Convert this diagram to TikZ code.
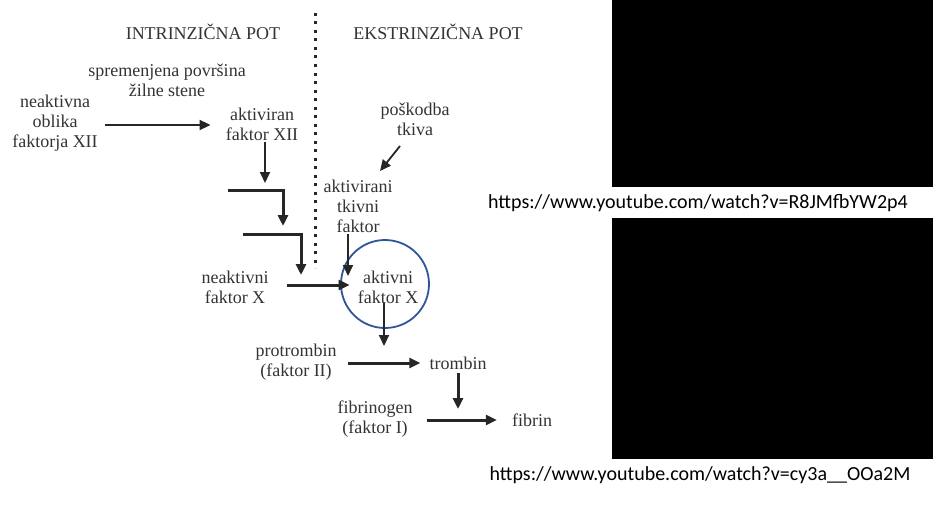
\documentclass[tikz,border=0pt]{standalone}
\usepackage{fontspec}
\setmainfont{Liberation Serif}
\newfontfamily\linkfont{Carlito}
\usetikzlibrary{arrows.meta}

\definecolor{ringblue}{HTML}{2F5597}

\begin{document}
\begin{tikzpicture}[x=1pt, y=-1pt,
   txt/.style = {align=center, inner sep=1pt, text=black!80,
                 font=\fontsize{18}{20}\selectfont},
   link/.style = {inner sep=1pt, font=\linkfont\fontsize{20}{24}\selectfont},
   arr/.style = {-{Triangle[length=11pt, width=10pt]}, line width=1.8pt, black!85},
   fat/.style = {arr, line width=3pt}]
   \useasboundingbox (0,0) rectangle (944,511);

   % the two pathways
   \node[txt] (intr)  at (203,32) {INTRINZIČNA POT};
   \node[txt] (ekstr) at (438,32) {EKSTRINZIČNA POT};
   \coordinate (sepTop) at (315,13);
   \coordinate (sepBot) at (315,268);
   \draw[line width=3pt, black!85, dash pattern=on 3pt off 5.5pt] (sepTop) -- (sepBot);

   \node[txt] (povrs)  at (167,80)  {spremenjena površina\\žilne stene};
   \node[txt] (xii)    at (55,123)  {neaktivna\\oblika\\faktorja XII};
   \node[txt] (axii)   at (262,124) {aktiviran\\faktor XII};
   \node[txt] (posk)   at (415,119) {poškodba\\tkiva};
   \node[txt] (tf)     at (358,206) {aktivirani\\tkivni\\faktor};
   \node[txt] (nx)     at (235,287) {neaktivni\\faktor X};
   \node[txt] (ax)     at (388,287) {aktivni\\faktor X};
   \node[txt] (protr)  at (296,362) {protrombin\\(faktor II)};
   \node[txt] (tromb)  at (458,363) {trombin};
   \node[txt] (fibgen) at (375,419) {fibrinogen\\(faktor I)};
   \node[txt] (fibrin) at (532,420) {fibrin};

   \node[draw=ringblue, line width=1.8pt, circle, minimum size=88pt] (ring) at (385,284) {};

   % free ends of the arrows
   \coordinate (k1)  at (265,183);
   \coordinate (b1)  at (228,190);
   \coordinate (b1e) at (283,226);
   \coordinate (b2)  at (243,234);
   \coordinate (b2e) at (301,275);
   \coordinate (pk1) at (400,146);
   \coordinate (pk2) at (380,171);
   \coordinate (tfx) at (348,276);
   \coordinate (axd) at (384,346);
   \coordinate (trd) at (458,409);

   \draw[arr] ([xshift=6pt, yshift=-2pt]xii.east) -- ([xshift=-14pt, yshift=-2pt]xii.east -| axii.west);
   \draw[arr] ([xshift=3pt]axii.south) -- (k1);
   \draw[fat] (b1) -| (b1e);
   \draw[fat] (b2) -| (b2e);
   \draw[arr] (pk1) -- (pk2);
   \draw[arr] ([xshift=-10pt]tf.south) -- (tfx);
   \draw[fat] ([xshift=17pt, yshift=2pt]nx.east) -- ([xshift=-7pt, yshift=2pt]nx.east -| ax.west);
   \draw[arr] ([xshift=-4pt, yshift=2pt]ax.south) -- (axd);
   \draw[fat] ([xshift=10pt, yshift=-1pt]protr.east) -- ([xshift=-8pt, yshift=-1pt]protr.east -| tromb.west);
   \draw[fat] ([yshift=-2pt]tromb.south) -- (trd);
   \draw[fat] ([xshift=13pt, yshift=-1pt]fibgen.east) -- ([xshift=-14pt, yshift=-1pt]fibgen.east -| fibrin.west);

   % video boxes with their links
   \fill (612,0) rectangle (933,187);
   \fill (612,218) rectangle (933,459);
   \node[link] (link1) at (698,203) {https://www.youtube.com/watch?v=R8JMfbYW2p4};
   \node[link] (link2) at (700,475) {https://www.youtube.com/watch?v=cy3a\_\_OOa2M};
\end{tikzpicture}
\end{document}
